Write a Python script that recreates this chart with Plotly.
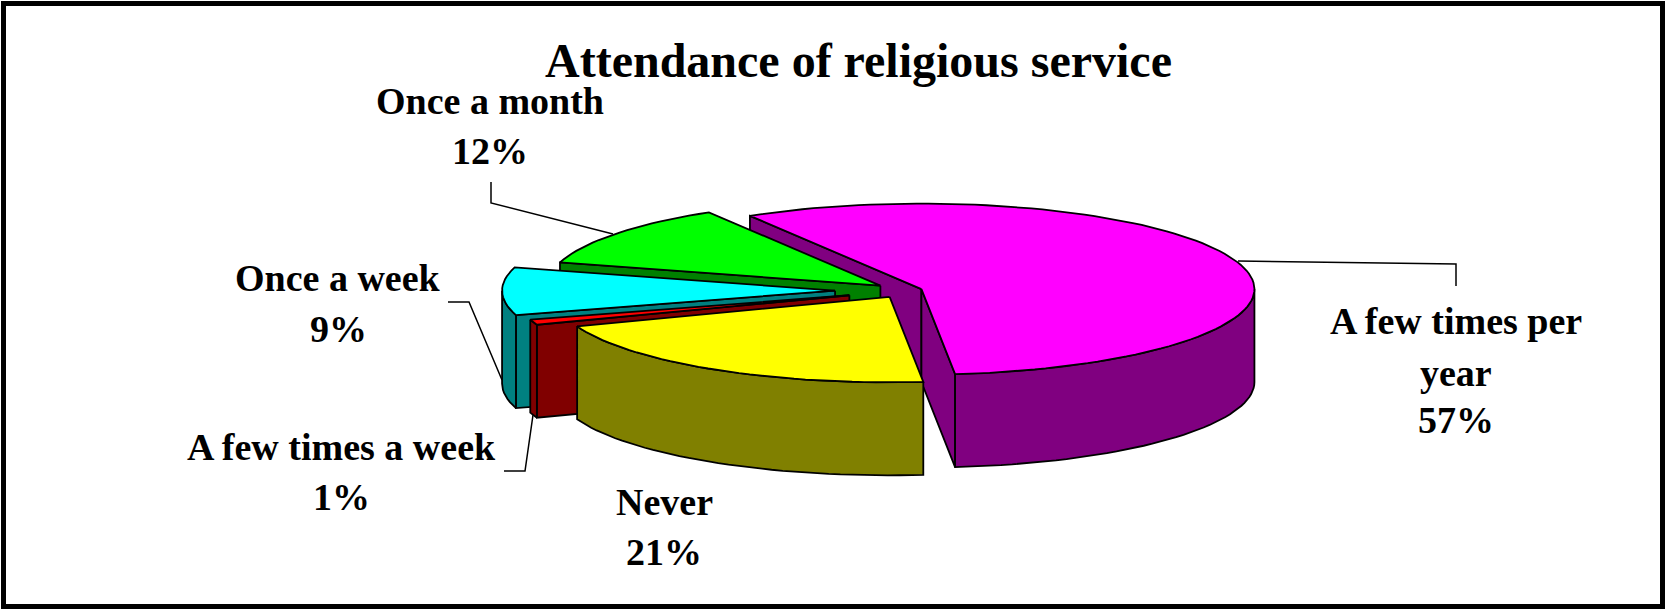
import numpy as np
import plotly.graph_objects as go

# ---- data ----
title = "Attendance of religious service"
categories = ["A few times per year", "Never", "A few times a week", "Once a week", "Once a month"]
values = [57, 21, 1, 9, 12]
top_colors = ["#FF00FF", "#FFFF00", "#FF0000", "#00FFFF", "#00FF00"]
wall_colors = ["#800080", "#808000", "#800000", "#008080", "#008000"]
explode = [0.052, 0.087, 0.176, 0.21, 0.093]

# label placement: one entry per text line, centre x / y in axis units
label_lines = {
    "A few times per year": (["A few times per", "year"], 1456, [321, 373], 420),
    "Never": (["Never"], 664, [502], 552),
    "A few times a week": (["A few times a week"], 341, [447], 497),
    "Once a week": (["Once a week"], 338, [278], 329),
    "Once a month": (["Once a month"], 490, [101], 151),
}
leaders = [
    ([1238, 1456, 1456], [261, 264, 286]),
    ([504, 525, 533], [471, 471, 415]),
    ([448, 469, 502], [302, 302, 380]),
    ([491, 491, 613], [182, 203, 234]),
]

# ---- projection parameters of the 3-D pie ----
W, H = 1665, 609
CX, CY = 905, 290.5
RX, RY, DEPTH = 333, 85.5, 93
START = 121
LINE = 1.8


def arc(ax, ay, t0, t1, drop=0.0):
    n = max(2, int(abs(t1 - t0) / 2) + 1)
    t = np.radians(np.linspace(t0, t1, n))
    return ax + RX * np.cos(t), ay - RY * np.sin(t) + drop


def poly(xs, ys, fill):
    xs = list(xs) + [xs[0]]
    ys = list(ys) + [ys[0]]
    return go.Scatter(x=xs, y=ys, mode="lines", fill="toself", fillcolor=fill,
                      line=dict(color="black", width=LINE), hoverinfo="skip", showlegend=False)


def slice_traces(i, t0, t1):
    mid = np.radians((t0 + t1) / 2)
    ax = CX + explode[i] * RX * np.cos(mid)
    ay = CY - explode[i] * RY * np.sin(mid)
    traces = []
    # radial walls
    for edge, vis in ((t0, np.cos(np.radians(t0)) < 0), (t1, np.cos(np.radians(t1)) > 0)):
        if vis:
            ex = ax + RX * np.cos(np.radians(edge))
            ey = ay - RY * np.sin(np.radians(edge))
            traces.append(poly([ax, ex, ex, ax], [ay, ey, ey + DEPTH, ay + DEPTH], wall_colors[i]))
    # outer wall: the part of the rim in the front half of the ellipse
    for k in range(-1, 1):
        lo, hi = 360 * k - 180, 360 * k
        a, b = max(t1, lo), min(t0, hi)
        if a < b:
            x1, y1 = arc(ax, ay, b, a)
            x2, y2 = arc(ax, ay, a, b, DEPTH)
            traces.append(poly(np.r_[x1, x2], np.r_[y1, y2], wall_colors[i]))
    # top face
    x, y = arc(ax, ay, t0, t1)
    traces.append(poly(np.r_[ax, x], np.r_[ay, y], top_colors[i]))
    return traces


sweep = 360 * np.array(values) / sum(values)
edges = START - np.r_[0, np.cumsum(sweep)]

fig = go.Figure()
# painter's order: back slices first
for i in [0, 4, 3, 2, 1]:
    for tr in slice_traces(i, edges[i], edges[i + 1]):
        fig.add_trace(tr)

for lx, ly in leaders:
    fig.add_trace(go.Scatter(x=lx, y=ly, mode="lines", line=dict(color="black", width=1.5),
                             hoverinfo="skip", showlegend=False))

font = "Liberation Serif"
ann = [dict(x=858, y=60, text=f"<b>{title}</b>", showarrow=False, xanchor="center", yanchor="middle",
            font=dict(family=font, size=48, color="black"))]
for cat, val in zip(categories, values):
    lines, lx, lys, py = label_lines[cat]
    for txt, ly in zip(lines, lys):
        ann.append(dict(x=lx, y=ly, text=f"<b>{txt}</b>", showarrow=False, xanchor="center", yanchor="middle",
                        font=dict(family=font, size=38, color="black")))
    ann.append(dict(x=lx, y=py, text=f"<b>{val}%</b>", showarrow=False, xanchor="center", yanchor="middle",
                    font=dict(family=font, size=38, color="black")))

fig.update_layout(
    width=W, height=H, margin=dict(l=0, r=0, t=0, b=0), autosize=False,
    paper_bgcolor="white", plot_bgcolor="white", showlegend=False,
    xaxis=dict(range=[0, W], visible=False, fixedrange=True),
    yaxis=dict(range=[H, 0], visible=False, fixedrange=True),
    annotations=ann,
    shapes=[dict(type="rect", x0=3.5, y0=3.5, x1=W - 2.5, y1=H - 2.5,
                 line=dict(color="black", width=5), layer="below")],
)
fig.write_html("out.html", config={"displayModeBar": False},
               post_script="document.body.style.margin='0';document.documentElement.style.overflow='hidden';")
